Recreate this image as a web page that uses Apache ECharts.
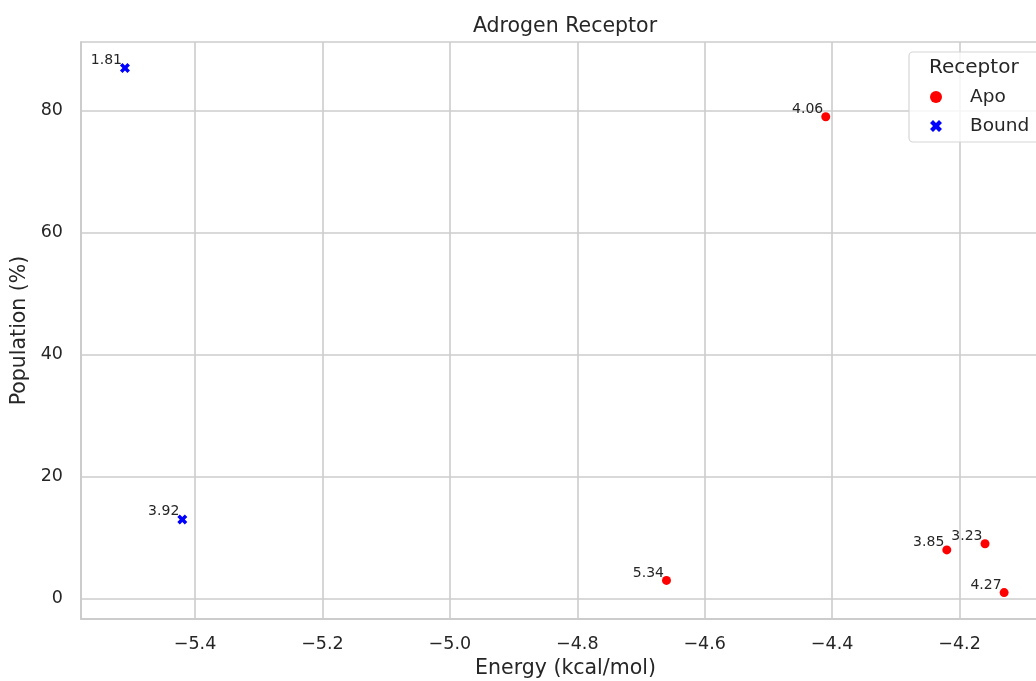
<!DOCTYPE html>
<html>
<head>
<meta charset="utf-8">
<title>Adrogen Receptor</title>
<script src="https://cdn.jsdelivr.net/npm/echarts@6/dist/echarts.min.js"></script>
<style>
  html, body { margin: 0; padding: 0; background: #ffffff; }
  #chart { width: 1036px; height: 681px; }
</style>
</head>
<body>
<div id="chart"></div>
<script>
// Apo receptor states: energy (kcal/mol), population (%), annotation value
const apoEnergy = [-4.41, -4.66, -4.22, -4.16, -4.13];
const apoPopulation = [79, 3, 8, 9, 1];
const apoLabel = ['4.06', '5.34', '3.85', '3.23', '4.27'];

// Bound receptor states
const boundEnergy = [-5.51, -5.42];
const boundPopulation = [87, 13];
const boundLabel = ['1.81', '3.92'];

const seriesNames = ['Apo', 'Bound'];
const legendTitle = 'Receptor';
const chartTitle = 'Adrogen Receptor';
const xAxisTitle = 'Energy (kcal/mol)';
const yAxisTitle = 'Population (%)';

const FONT = 'DejaVu Sans';
const TEXT = '#262626';
const GRID = '#cccccc';

// filled "X" marker
const X_MARK = 'path://M0,1.5 L1.5,0 L3,1.5 L4.5,0 L6,1.5 L4.5,3 L6,4.5 L4.5,6 L3,4.5 L1.5,6 L0,4.5 L1.5,3 Z';

function zipPoints(xs, ys, labels) {
  return xs.map((x, i) => [x, ys[i], labels[i]]);
}

const pointLabel = {
  show: true,
  position: [2, 4],
  align: 'right',
  verticalAlign: 'bottom',
  fontFamily: FONT,
  fontSize: 14,
  color: TEXT,
  formatter: p => p.data[2]
};

const chart = echarts.init(document.getElementById('chart'), null, { renderer: 'canvas' });

chart.setOption({
  animation: false,
  backgroundColor: '#ffffff',
  title: {
    text: chartTitle,
    left: 565,
    textAlign: 'center',
    top: 16,
    padding: 0,
    textStyle: { fontFamily: FONT, fontSize: 20.5, fontWeight: 'normal', color: TEXT }
  },
  // the plot frame runs past the right edge of the canvas
  grid: {
    left: 81, top: 42, width: 969, bottom: 62,
    containLabel: false,
    outerBoundsMode: 'none'
  },
  xAxis: {
    type: 'value',
    min: -5.579,
    max: -4.058,
    minInterval: 0.2,
    maxInterval: 0.2,
    name: xAxisTitle,
    nameLocation: 'middle',
    nameGap: 38,
    nameTextStyle: { fontFamily: FONT, fontSize: 20.5, color: TEXT },
    axisLine: { show: true, onZero: false, lineStyle: { color: GRID, width: 2 } },
    axisTick: { show: false },
    axisLabel: {
      fontFamily: FONT, fontSize: 17.5, color: TEXT, margin: 16,
      showMinLabel: false, showMaxLabel: false,
      formatter: v => (v < 0 ? '\u2212' : '') + Math.abs(v).toFixed(1)
    },
    splitLine: { show: true, lineStyle: { color: GRID, width: 1.6 } }
  },
  yAxis: {
    type: 'value',
    min: -3.33,
    max: 91.26,
    minInterval: 20,
    maxInterval: 20,
    name: yAxisTitle,
    nameLocation: 'middle',
    nameGap: 42,
    nameTextStyle: { fontFamily: FONT, fontSize: 20.5, color: TEXT },
    axisLine: { show: true, onZero: false, lineStyle: { color: GRID, width: 2 } },
    axisTick: { show: false },
    axisLabel: {
      fontFamily: FONT, fontSize: 17.5, color: TEXT, margin: 18,
      showMinLabel: false, showMaxLabel: false
    },
    splitLine: { show: true, lineStyle: { color: GRID, width: 1.6 } }
  },
  legend: {
    data: seriesNames,
    orient: 'vertical',
    left: 930,
    top: 86,
    padding: 0,
    itemWidth: 12,
    itemHeight: 12,
    itemGap: 7,
    z: 6,
    textStyle: {
      fontFamily: FONT, fontSize: 18.5, color: TEXT, lineHeight: 22,
      padding: [0, 0, 0, 23]
    }
  },
  graphic: [
    {
      type: 'rect',
      z: 5,
      shape: { x: 909, y: 52, width: 170, height: 90, r: 4 },
      style: { fill: 'rgba(255,255,255,0.8)', stroke: '#d6d6d6', lineWidth: 1.2 }
    },
    {
      type: 'text',
      z: 7,
      x: 929,
      y: 68,
      style: {
        text: legendTitle,
        fontFamily: FONT,
        fontSize: 20,
        fill: TEXT,
        verticalAlign: 'middle'
      }
    }
  ],
  series: [
    {
      name: seriesNames[0],
      type: 'scatter',
      symbol: 'circle',
      symbolSize: 9,
      itemStyle: { color: '#ff0000', opacity: 1 },
      label: pointLabel,
      data: zipPoints(apoEnergy, apoPopulation, apoLabel)
    },
    {
      name: seriesNames[1],
      type: 'scatter',
      symbol: X_MARK,
      symbolSize: 10,
      itemStyle: { color: '#0000ff', opacity: 1 },
      label: pointLabel,
      data: zipPoints(boundEnergy, boundPopulation, boundLabel)
    }
  ]
});
</script>
</body>
</html>
